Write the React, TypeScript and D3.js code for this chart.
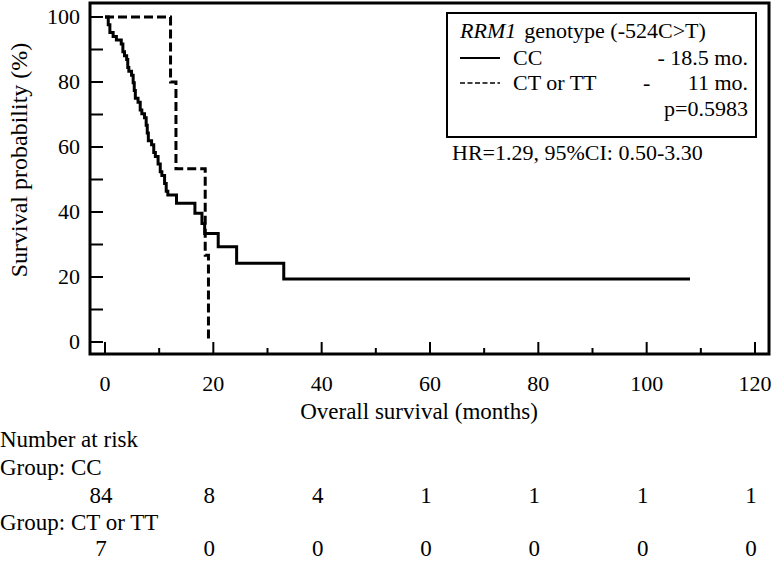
import React from 'react';
import * as d3 from 'd3';

// Kaplan–Meier: CC genotype (solid)
const ccTimes = [0, 0.6, 0.9, 1.5, 2.1, 3.0, 3.3, 3.6, 4.0, 4.2, 4.4, 4.9, 5.2, 5.4, 5.6, 6.1, 6.5, 6.8, 7.3, 7.6, 7.8, 8.0, 8.6, 9.0, 9.3, 9.8, 10.2, 10.5, 11.0, 11.3, 11.6, 13.2, 16.6, 17.9, 18.4, 20.9, 24.3, 33.0, 108];
const ccSurv = [100, 97.6, 95.2, 94.0, 92.9, 91.7, 89.3, 88.1, 86.9, 84.5, 83.3, 82.1, 79.8, 77.4, 75.0, 73.8, 71.4, 70.2, 69.0, 66.7, 64.3, 61.9, 60.7, 58.3, 57.1, 54.8, 52.4, 51.2, 48.8, 46.4, 45.2, 42.7, 39.6, 36.5, 33.4, 29.3, 24.2, 19.4, 19.4];
// CT or TT genotype (dashed)
const ctTimes = [0, 12.1, 13.1, 18.5, 19.1];
const ctSurv = [100, 80, 53.3, 26.7, 0];

const xTicks = [0, 20, 40, 60, 80, 100, 120];
const xMinor = [10, 30, 50, 70, 90, 110];
const yTicks = [0, 20, 40, 60, 80, 100];
const yMinor = [10, 30, 50, 70, 90];

const riskTimes = [0, 20, 40, 60, 80, 100, 120];
const riskCC = [84, 8, 4, 1, 1, 1, 1];
const riskCT = [7, 0, 0, 0, 0, 0, 0];

const FONT = '"Liberation Serif", "Times New Roman", serif';

export default function App() {
  const W = 774, H = 562;
  const x = d3.scaleLinear().domain([0, 120]).range([105, 755]);
  const y = d3.scaleLinear().domain([0, 100]).range([342, 17]);
  const frame = { l: 90, t: 3, r: 769, b: 354 };

  const line = d3.line<[number, number]>()
    .x(d => x(d[0]))
    .y(d => y(d[1]))
    .curve(d3.curveStepAfter);

  const ccPts = ccTimes.map((t, i) => [t, ccSurv[i]] as [number, number]);
  const ctPts = ctTimes.map((t, i) => [t, ctSurv[i]] as [number, number]);

  const fs = 22;
  const fx = 23;
  const fy = 24;
  const fr = 23;

  return (
    <svg width={W} height={H} style={{ position: 'absolute', left: 0, top: 0, background: '#fff', fontFamily: FONT }}>
      <rect x={0} y={0} width={W} height={H} fill="#fff" />
      {/* frame */}
      <rect x={frame.l} y={frame.t} width={frame.r - frame.l} height={frame.b - frame.t} fill="none" stroke="#000" strokeWidth={3} />
      {/* y ticks */}
      {yTicks.concat(yMinor).map(v => (
        <line key={'yt' + v} x1={frame.l} x2={frame.l + 13} y1={y(v)} y2={y(v)} stroke="#000" strokeWidth={2} />
      ))}
      {yTicks.map(v => (
        <text key={'yl' + v} x={80} y={y(v) + 7} textAnchor="end" fontSize={fs}>{v}</text>
      ))}
      {/* x ticks */}
      {xTicks.map(v => (
        <line key={'xt' + v} x1={x(v)} x2={x(v)} y1={frame.b} y2={frame.b - 12} stroke="#000" strokeWidth={2} />
      ))}
      {xMinor.map(v => (
        <line key={'xm' + v} x1={x(v)} x2={x(v)} y1={frame.b} y2={frame.b - 6} stroke="#000" strokeWidth={2} />
      ))}
      {xTicks.map(v => (
        <text key={'xl' + v} x={x(v)} y={391} textAnchor="middle" fontSize={fs}>{v}</text>
      ))}
      {/* axis titles */}
      <text x={419} y={419} textAnchor="middle" fontSize={fx}>Overall survival (months)</text>
      <text transform={`translate(27,160) rotate(-90)`} textAnchor="middle" fontSize={fy}>Survival probability (%)</text>

      {/* curves */}
      <path d={line(ccPts) || ''} fill="none" stroke="#000" strokeWidth={3} />
      <path d={line(ctPts) || ''} fill="none" stroke="#000" strokeWidth={3} strokeDasharray="9,4" />

      {/* legend */}
      <rect x={447} y={13} width={309} height={124} fill="#fff" stroke="#000" strokeWidth={2} />
      <text x={460} y={38} fontSize={fs}>
        <tspan fontStyle="italic">RRM1</tspan>
        <tspan dx={8}>genotype (-524C&gt;T)</tspan>
      </text>
      <line x1={460} x2={500} y1={58} y2={58} stroke="#000" strokeWidth={2} />
      <text x={513} y={65} fontSize={fs}>CC</text>
      <text x={748} y={65} fontSize={fs} textAnchor="end">- 18.5 mo.</text>
      <line x1={460} x2={500} y1={83} y2={83} stroke="#000" strokeWidth={1.5} strokeDasharray="5,2.5" />
      <text x={513} y={90} fontSize={fs}>CT or TT</text>
      <text x={643} y={90} fontSize={fs}>-</text>
      <text x={748} y={90} fontSize={fs} textAnchor="end">11 mo.</text>
      <text x={748} y={116} fontSize={fs} textAnchor="end">p=0.5983</text>
      <text x={452} y={160} fontSize={fs}>HR=1.29, 95%CI: 0.50-3.30</text>

      {/* number at risk */}
      <text x={0} y={447} fontSize={fr}>Number at risk</text>
      <text x={0} y={475} fontSize={fr}>Group: CC</text>
      {riskTimes.map((t, i) => (
        <text key={'rc' + i} x={x(t) - 4} y={503} textAnchor="middle" fontSize={fr}>{riskCC[i]}</text>
      ))}
      <text x={0} y={530} fontSize={fr}>Group: CT or TT</text>
      {riskTimes.map((t, i) => (
        <text key={'rt' + i} x={x(t) - 4} y={556} textAnchor="middle" fontSize={fr}>{riskCT[i]}</text>
      ))}
    </svg>
  );
}
